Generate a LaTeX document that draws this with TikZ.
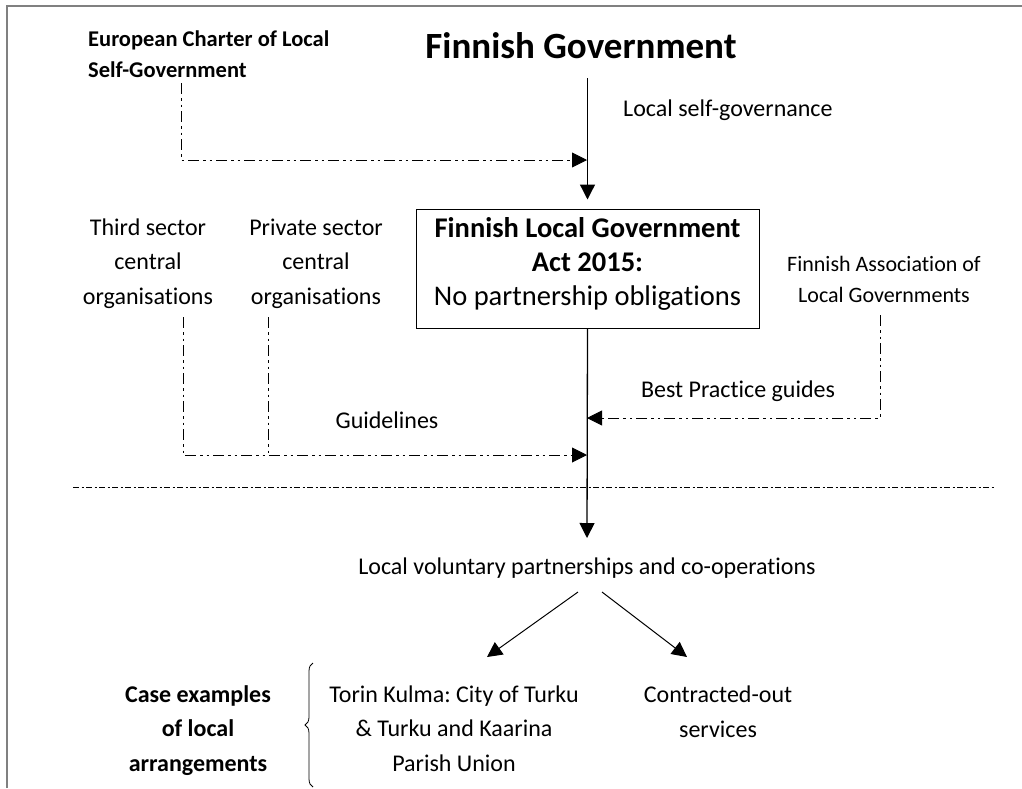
\documentclass[tikz,border=0pt]{standalone}
\usepackage{fontspec}
\setmainfont{Carlito}[Ligatures=NoCommon]
\usetikzlibrary{arrows.meta,decorations.pathreplacing}
\frenchspacing
\begin{document}
\begin{tikzpicture}[x=1pt,y=-1pt,
  txt/.style={inner sep=0pt, font=\fontsize{24}{34.5}\selectfont, align=center},
  smalltxt/.style={inner sep=0pt, font=\fontsize{22}{31}\selectfont, align=center},
  boldsmall/.style={inner sep=0pt, font=\bfseries\fontsize{22.5}{31}\selectfont, align=left},
  boldtxt/.style={inner sep=0pt, font=\bfseries\fontsize{24}{34.5}\selectfont, align=center},
  titletxt/.style={inner sep=0pt, font=\bfseries\fontsize{37}{44}\selectfont},
  actbox/.style={draw, line width=1pt, inner sep=0pt, minimum width=343pt, minimum height=119pt,
    font=\fontsize{28.5}{34}\selectfont, align=center},
  tip/.style={-{Triangle[length=15pt,width=15pt]}},
  mainarrow/.style={line width=1.3pt, tip},
  thinarrow/.style={line width=1pt, tip},
  ddline/.style={line width=0.9pt, dash pattern=on 11pt off 4pt on 2.5pt off 4pt on 2.5pt off 4pt},
  sepline/.style={line width=0.9pt, dash pattern=on 6pt off 2.5pt on 2pt off 2.5pt},
  framed/.style={line width=2pt, draw=black!50}
]
\useasboundingbox (0,0) rectangle (1022,788);
\fill[white] (0,0) rectangle (1022,788);

% frame (open at right and bottom)
\draw[framed] (7,788) -- (7,6) -- (1022,6);

% nodes
\node[boldsmall, anchor=base west] (ec) at (88,77) {European Charter of Local\\Self-Government};
\node[titletxt, anchor=base] (fg) at (581,58) {Finnish Government};
\node[txt, anchor=base west] (lsg) at (623,116) {Local self-governance};
\node[actbox] (act) at (587.5,268.5) {\textbf{Finnish Local Government}\\\textbf{Act 2015:}\\No partnership obligations\rule[-15pt]{0pt}{1pt}};
\node[txt, anchor=base] (ts) at (148,304) {Third sector\\central\\organisations};
\node[txt, anchor=base] (ps) at (316,304) {Private sector\\central\\organisations};
\node[smalltxt, anchor=base] (fa) at (884,302) {Finnish Association of\\Local Governments};
\node[txt, anchor=base] (gl) at (387,428) {Guidelines};
\node[txt, anchor=base] (bpg) at (738,397) {Best Practice guides};
\node[txt, anchor=base] (lv) at (587,574) {Local voluntary partnerships and co-operations};
\node[txt, anchor=base] (tk) at (454,771) {Torin Kulma: City of Turku\\\& Turku and Kaarina\\Parish Union};
\node[txt, anchor=base] (co) at (718,737) {Contracted-out\\services};
\node[boldtxt, anchor=base] (ce) at (198,771) {Case examples\\of local\\arrangements};

% junction coordinates
\coordinate (j1) at (587,160);
\coordinate (j2) at (587,418);
\coordinate (j3) at (587,455);
\coordinate (ecfoot) at (181,83);
\coordinate (tsfoot) at (183,317);
\coordinate (psfoot) at (268,317);
\coordinate (fafoot) at (880,315);
\coordinate (mainend) at (587,538);
\coordinate (sepL) at (73,487);
\coordinate (sepR) at (995,487);
\coordinate (lvL) at (578,592);
\coordinate (lvR) at (602,592);
\coordinate (tkin) at (487,657);
\coordinate (coin) at (687,657);
\coordinate (brB) at (313,787);
\coordinate (brT) at (313,663);

% main vertical connectors
\draw[mainarrow, shorten <=20pt, shorten >=9pt] (act.north |- fg.south) -- (act.north);
\draw[mainarrow] (act.south) -- (mainend);

% dashed connectors
\draw[ddline, tip] (ecfoot) |- (j1);
\draw[ddline, tip] (tsfoot) |- (j3);
\draw[ddline] (psfoot) -- (psfoot |- j3);
\draw[ddline, tip] (fafoot) |- (j2);

% separator
\draw[sepline] (sepL) -- (sepR);

% lower arrows
\draw[thinarrow] (lvL) -- (tkin);
\draw[thinarrow] (lvR) -- (coin);

% brace
\draw[line width=0.8pt, decorate, decoration={brace, amplitude=8pt}] (brB) -- (brT);
\end{tikzpicture}
\end{document}
